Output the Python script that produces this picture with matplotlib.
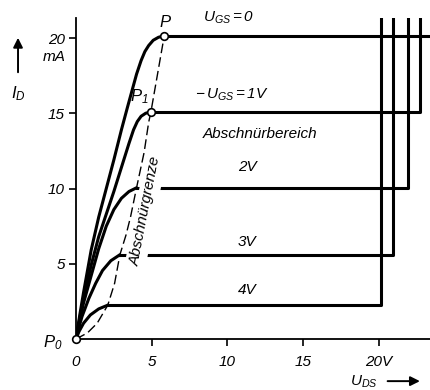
import matplotlib.pyplot as plt

plt.rcParams['font.family'] = ['Liberation Sans', 'DejaVu Sans']
plt.rcParams['font.style'] = 'italic'
plt.rcParams['font.size'] = 11
plt.rcParams['mathtext.fontset'] = 'custom'
for k in ['rm', 'it', 'bf', 'sf']:
    plt.rcParams['mathtext.' + k] = 'Liberation Sans:italic'

# -U_GS in V for each characteristic
u_gs = [0, 1, 2, 3, 4]
# ohmic part up to the pinch-off point: U_DS [V], I_D [mA]
ohm_u = [
    [0, 0.25, 0.5, 1.0, 1.5, 2.0, 2.5, 3.0, 3.4, 3.7, 4.0, 4.3, 4.55, 4.8, 5.1, 5.45, 5.83],
    [0, 0.25, 0.5, 1.0, 1.5, 2.0, 2.5, 3.0, 3.5, 3.8, 4.05, 4.3, 4.6, 4.95],
    [0, 0.25, 0.5, 1.0, 1.5, 2.0, 2.5, 3.0, 3.5, 4.0],
    [0, 0.2, 0.4, 0.85, 1.3, 1.75, 2.3, 2.9],
    [0, 0.2, 0.5, 0.95, 1.5, 2.1],
]
ohm_i = [
    [0, 1.6, 3.1, 5.9, 8.1, 10.0, 11.9, 13.9, 15.4, 16.5, 17.6, 18.5, 19.1, 19.5, 19.85, 20.05, 20.15],
    [0, 1.4, 2.7, 4.9, 6.8, 8.3, 9.8, 11.4, 13.0, 13.9, 14.45, 14.8, 15.0, 15.1],
    [0, 1.3, 2.4, 4.2, 6.0, 7.5, 8.6, 9.35, 9.8, 10.05],
    [0, 0.8, 1.5, 2.7, 3.7, 4.55, 5.2, 5.6],
    [0, 0.5, 1.05, 1.6, 2.0, 2.25],
]
# breakdown voltage U_DS [V]
u_bd = [24.0, 22.75, 21.9, 20.95, 20.15]
# pinch-off boundary (Abschnürgrenze)
grenze_u = [0, 0.75, 1.4, 2.1, 2.55, 2.9, 3.3, 3.6, 4.0, 4.5, 4.8, 4.95, 5.83]
grenze_i = [0, 0.4, 1.05, 2.25, 3.7, 5.6, 6.9, 8.1, 10.05, 12.4, 14.4, 15.1, 20.15]

xmax, ymax = 23.45, 21.33

fig = plt.figure(figsize=(4.31, 3.90), dpi=100)
ax = fig.add_axes([76 / 431, 51 / 390, 355 / 431, 321 / 390])

for k in range(len(u_gs)):
    us, ids = ohm_u[k], ohm_i[k]
    ax.plot(us, ids, color='k', lw=2.2, solid_capstyle='round',
            solid_joinstyle='round', zorder=4)
    ax.plot([us[-1], u_bd[k], u_bd[k]], [ids[-1], ids[-1], ymax + 1],
            color='k', lw=2.2, solid_joinstyle='round', zorder=2)

ax.plot(grenze_u, grenze_i, color='k', lw=1.0, dashes=(7, 3), zorder=4)

# P0, P1, P
pts_u = [0, ohm_u[1][-1], ohm_u[0][-1]]
pts_i = [0, ohm_i[1][-1], ohm_i[0][-1]]
ax.plot(pts_u, pts_i, 'o', ms=5.5, mfc='white', mec='k', mew=1.2,
        clip_on=False, zorder=6)

ax.text(5.88, 21.0, 'P', ha='center', va='center', fontsize=12)
ax.text(3.55, 16.1, '$P_1$', ha='left', va='center', fontsize=12)
ax.text(-0.9, -0.25, '$P_0$', ha='right', va='center', fontsize=12)

ax.text(8.4, 21.1, '$U_{GS}=0$', ha='left', va='baseline')
ax.text(7.85, 15.95, r'$-\,U_{GS}=1V$', ha='left', va='baseline')
ax.text(12.15, 13.6, 'Abschnürbereich', ha='center', va='center')
for lab, yy in zip(['2V', '3V', '4V'], [11.43, 6.45, 3.26]):
    ax.text(11.3, yy, lab, ha='center', va='center')

ax.text(4.6, 8.5, 'Abschnürgrenze', rotation=79, ha='center', va='center',
        rotation_mode='anchor', zorder=3,
        bbox=dict(facecolor='white', edgecolor='none', pad=2.5))

ax.text(-2.18, 18.74, 'mA', ha='left', va='center')
ax.text(-3.83, 16.28, '$I_D$', ha='center', va='center', fontsize=12)
ax.annotate('', xy=(-3.83, 20.2), xytext=(-3.83, 17.54), annotation_clip=False,
            arrowprops=dict(arrowstyle='-|>', color='k', lw=1.4, mutation_scale=14))
ax.text(18.1, -3.1, '$U_{DS}$', ha='left', va='baseline')
ax.annotate('', xy=(22.9, -2.8), xytext=(20.4, -2.8), annotation_clip=False,
            arrowprops=dict(arrowstyle='-|>', color='k', lw=1.4, mutation_scale=14))

ax.set_xlim(0, xmax)
ax.set_ylim(0, ymax)
ax.set_xticks([0, 5, 10, 15, 20])
ax.set_xticklabels(['0', '5', '10', '15', '20V'])
ax.set_yticks([5, 10, 15, 20])
ax.set_yticklabels(['5', '10', '15', '20'])
ax.xaxis.get_major_ticks()[0].tick1line.set_visible(False)
ax.tick_params(direction='out', length=5, width=1.2, labelsize=11)
ax.tick_params(axis='x', pad=6.5)
ax.tick_params(axis='y', pad=3)
for s in ['top', 'right']:
    ax.spines[s].set_visible(False)
for s in ['left', 'bottom']:
    ax.spines[s].set_linewidth(1.3)

fig.savefig('out.png', dpi=100)
